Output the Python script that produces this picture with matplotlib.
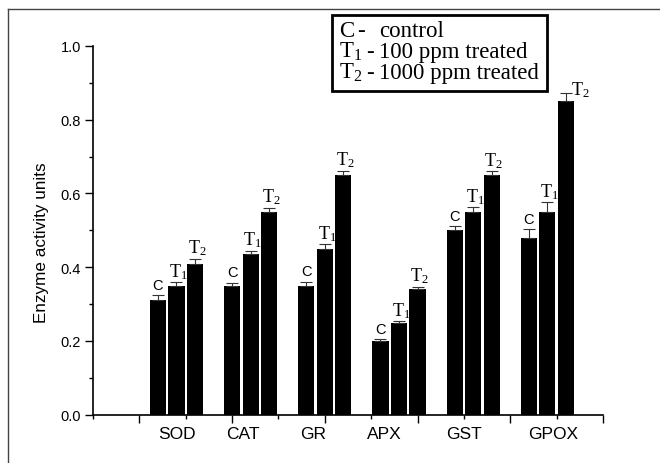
import numpy as np
import matplotlib
matplotlib.use("Agg")
import matplotlib.pyplot as plt
from matplotlib.lines import Line2D
from matplotlib.patches import Rectangle

plt.rcParams['font.family'] = ['Liberation Sans', 'DejaVu Sans']
plt.rcParams['mathtext.fontset'] = 'custom'
plt.rcParams['mathtext.rm'] = 'Liberation Serif'
plt.rcParams['mathtext.it'] = 'Liberation Serif:italic'

enzymes = ['SOD', 'CAT', 'GR', 'APX', 'GST', 'GPOX']
ctrl = [0.31, 0.35, 0.35, 0.20, 0.50, 0.48]
t1 = [0.35, 0.435, 0.45, 0.25, 0.55, 0.55]
t2 = [0.41, 0.55, 0.65, 0.34, 0.65, 0.85]
ctrl_err = [0.014, 0.008, 0.011, 0.005, 0.011, 0.023]
t1_err = [0.009, 0.010, 0.012, 0.003, 0.012, 0.026]
t2_err = [0.013, 0.011, 0.012, 0.007, 0.010, 0.023]
bar_tags = ['C', r'$\mathrm{T}_1$', r'$\mathrm{T}_2$']

fig = plt.figure(figsize=(6.6, 4.64), dpi=100)
ax = fig.add_axes([93/660, 1-415.7/464, 510/660, 368.7/464])

centers = 1.8 + 1.6*np.arange(len(enzymes))
offs = [-0.4, 0.0, 0.4]
series = [(ctrl, ctrl_err), (t1, t1_err), (t2, t2_err)]

for k, (vals, errs) in enumerate(series):
    x = centers + offs[k]
    ax.bar(x, vals, width=0.35, color='black', edgecolor='black', linewidth=0, zorder=2)
    ax.errorbar(x, vals, yerr=[np.zeros(len(vals)), errs], fmt='none', ecolor='#333333',
                elinewidth=0.8, capsize=4, capthick=0.8, zorder=3)
    for xi, v, e in zip(x, vals, errs):
        top = v + e
        if k == 0:
            ax.annotate('C', (xi, top), xytext=(0, 2.5), textcoords='offset points',
                        ha='center', va='bottom', fontsize=10.5)
        elif top > 0.8:
            ax.annotate(bar_tags[k], (xi, top), xytext=(3.5, -4.5), textcoords='offset points',
                        ha='left', va='bottom', fontsize=13)
        else:
            ax.annotate(bar_tags[k], (xi, top), xytext=(1.5, 1), textcoords='offset points',
                        ha='center', va='bottom', fontsize=13)

ax.set_xlim(0, 11)
ax.set_ylim(0, 1.0)
ax.set_xticks([1, 3, 5, 7, 9, 11])
ax.set_xticks([0, 2, 4, 6, 8, 10], minor=True)
ax.set_xticklabels([])
ax.set_yticks(np.arange(0, 1.01, 0.2))
ax.set_yticks(np.arange(0.1, 1.0, 0.2), minor=True)
ax.set_yticklabels(['%.1f' % v for v in np.arange(0, 1.01, 0.2)])
ax.tick_params(which='major', direction='out', length=5.5, width=1.0, labelsize=10.5, pad=3)
ax.tick_params(which='minor', direction='out', length=3, width=1.0)
for s in ['top', 'right']:
    ax.spines[s].set_visible(False)
for s in ['left', 'bottom']:
    ax.spines[s].set_linewidth(1.2)

lbl_x = [1.81, 3.24, 4.75, 6.28, 8.0, 9.92]
for name, lx in zip(enzymes, lbl_x):
    ax.text(lx, -0.05, name, transform=ax.get_xaxis_transform(), ha='center', va='center',
            fontsize=12.5)

ax.text(-0.1, 0.47, 'Enzyme activity units', transform=ax.transAxes, rotation=90,
        ha='center', va='center', fontsize=12.3)

# legend box drawn by hand
fig.add_artist(Rectangle((332/660, 1-92/464), 215/660, 76/464, transform=fig.transFigure,
                         fill=False, edgecolor='black', linewidth=2))
leg_rows = [('C', 'control'), (r'$\mathrm{T}_1$', '100 ppm treated'),
            (r'$\mathrm{T}_2$', '1000 ppm treated')]
dash_x = [361.5, 370, 370]
for i, (a, b) in enumerate(leg_rows):
    yb = 1 - (37.5 + 20.5*i)/464
    fig.text(339/660, yb, a, family='Liberation Serif', fontsize=16.5, va='baseline', ha='left')
    fig.text(dash_x[i]/660, yb, '-', family='Liberation Serif', fontsize=16.5, va='baseline', ha='center')
    fig.text(379/660, yb, b, family='Liberation Serif', fontsize=16.5, va='baseline', ha='left')

# outer frame
fig.add_artist(Line2D([8/660, 8/660], [0, 1-10/464], transform=fig.transFigure, color='#444444', lw=1))
fig.add_artist(Line2D([8/660, 1], [1-10/464, 1-10/464], transform=fig.transFigure, color='#444444', lw=1))

fig.savefig('out.png', dpi=100)
